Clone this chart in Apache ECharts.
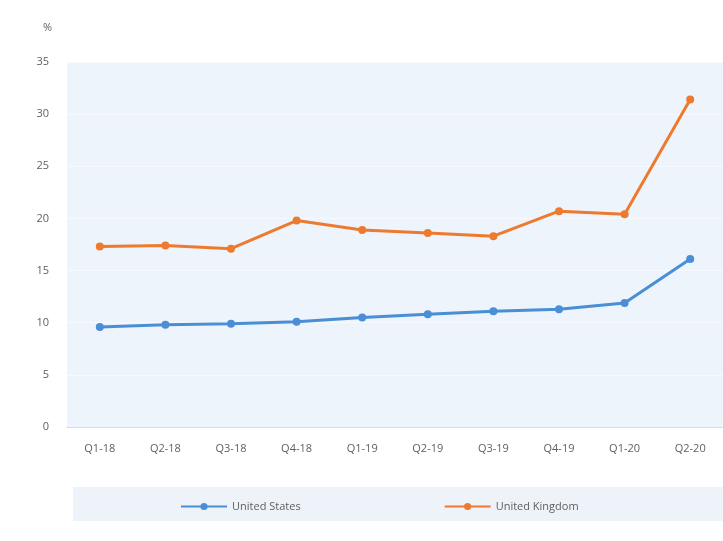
<!DOCTYPE html>
<html>
<head>
<meta charset="utf-8">
<script src="https://cdn.jsdelivr.net/npm/echarts@6/dist/echarts.min.js"></script>
<style>
  html, body { margin: 0; padding: 0; background: #fff; }
  #chart { width: 723px; height: 541px; }
</style>
</head>
<body>
<div id="chart"></div>
<script>
const quarters = ["Q1-18", "Q2-18", "Q3-18", "Q4-18", "Q1-19", "Q2-19", "Q3-19", "Q4-19", "Q1-20", "Q2-20"];
const unitedStates = [9.6, 9.8, 9.9, 10.1, 10.5, 10.8, 11.1, 11.3, 11.9, 16.1];
const unitedKingdom = [17.3, 17.4, 17.1, 19.8, 18.9, 18.6, 18.3, 20.7, 20.4, 31.4];

const labelColor = "#5f5f5f";
const chart = echarts.init(document.getElementById("chart"));

chart.setOption({
  backgroundColor: "#fff",
  textStyle: { fontFamily: "Open Sans" },
  graphic: [
    { type: "rect", left: 73, top: 487, shape: { width: 650, height: 34 }, style: { fill: "#eef3fa" }, z: -10 }
  ],
  grid: { left: 67, right: 0, top: 62, bottom: 114, backgroundColor: "#eef4fb", show: true, borderWidth: 0 },
  legend: {
    left: 175, top: 496,
    itemWidth: 46, itemHeight: 9, itemGap: 143,
    textStyle: { color: labelColor, fontSize: 11 },
    data: ["United States", "United Kingdom"]
  },
  xAxis: {
    type: "category",
    data: quarters,
    axisLine: { lineStyle: { color: "#d9dde3", width: 1 } },
    axisTick: { show: false },
    axisLabel: { color: labelColor, fontSize: 11, margin: 16 }
  },
  yAxis: {
    type: "value",
    min: 0, max: 35, interval: 5,
    name: "%",
    nameLocation: "end",
    nameGap: 29,
    nameTextStyle: { color: labelColor, fontSize: 11, align: "right", padding: [0, 15, 0, 0] },
    axisLine: { show: false },
    axisTick: { show: false },
    axisLabel: { color: labelColor, fontSize: 11, margin: 18 },
    splitLine: { lineStyle: { color: "#f6f9fd", width: 1 } }
  },
  series: [
    {
      name: "United States", type: "line", data: unitedStates,
      symbol: "circle", symbolSize: 8,
      lineStyle: { width: 3, color: "#4a8ed6" },
      itemStyle: { color: "#4a8ed6" }
    },
    {
      name: "United Kingdom", type: "line", data: unitedKingdom,
      symbol: "circle", symbolSize: 8,
      lineStyle: { width: 3, color: "#ee7a30" },
      itemStyle: { color: "#ee7a30" }
    }
  ]
});
</script>
</body>
</html>
